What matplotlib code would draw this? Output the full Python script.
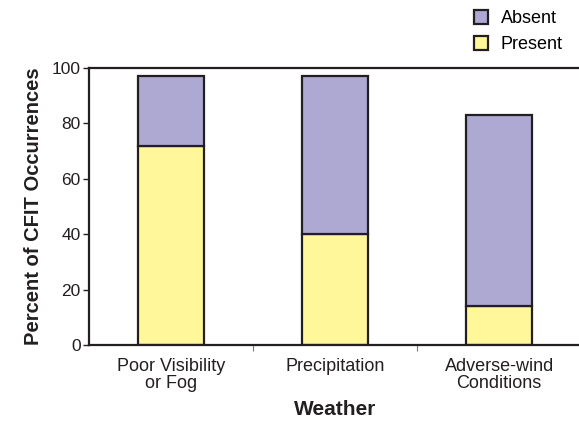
import numpy as np
import matplotlib.pyplot as plt

plt.rcParams['font.family'] = ['Liberation Sans', 'DejaVu Sans']

categories = ['Poor Visibility\nor Fog', 'Precipitation', 'Adverse-wind\nConditions']
present = [72, 40, 14]
absent = [25, 57, 69]

edge = '#231f20'
fig = plt.figure(figsize=(5.79, 4.21), dpi=100)
ax = fig.add_axes([0.1537, 0.1805, 0.85, 0.658])

x = np.arange(len(categories))
ax.bar(x, present, width=0.4, color='#fff799', edgecolor=edge, linewidth=1.6, label='Present')
ax.bar(x, absent, width=0.4, bottom=present, color='#ada9d2', edgecolor=edge, linewidth=1.6, label='Absent')

ax.set_xlim(-0.5, 2.5)
ax.set_ylim(0, 100)
ax.set_yticks([0, 20, 40, 60, 80, 100])
ax.set_xticks(x)
ax.set_xticklabels(categories, fontsize=13, color='#231f20', linespacing=1.0)
ax.set_xticks([0.5, 1.5], minor=True)
ax.tick_params(axis='x', which='major', length=0, pad=9)
ax.tick_params(axis='x', which='minor', length=4, width=0.8, color='#777777')
ax.tick_params(axis='y', length=4, width=1, labelsize=12.5, color=edge, labelcolor='#231f20', pad=2)

for s in ['left', 'bottom', 'top']:
    ax.spines[s].set_linewidth(1.6)
    ax.spines[s].set_color(edge)
ax.spines['right'].set_visible(False)

ax.set_xlabel('Weather', fontsize=15, fontweight='bold', labelpad=6, color='#231f20')
ax.set_ylabel('Percent of CFIT Occurrences', fontsize=14.5, fontweight='bold', labelpad=6, color='#231f20')

h, l = ax.get_legend_handles_labels()
fig.legend(h[::-1], l[::-1], loc='upper right', bbox_to_anchor=(1.0, 1.015), frameon=False,
           fontsize=13, handlelength=0.8, handleheight=0.8, handletextpad=0.7, labelspacing=0.5,
           borderaxespad=0.5)

fig.savefig('out.png', dpi=100)
